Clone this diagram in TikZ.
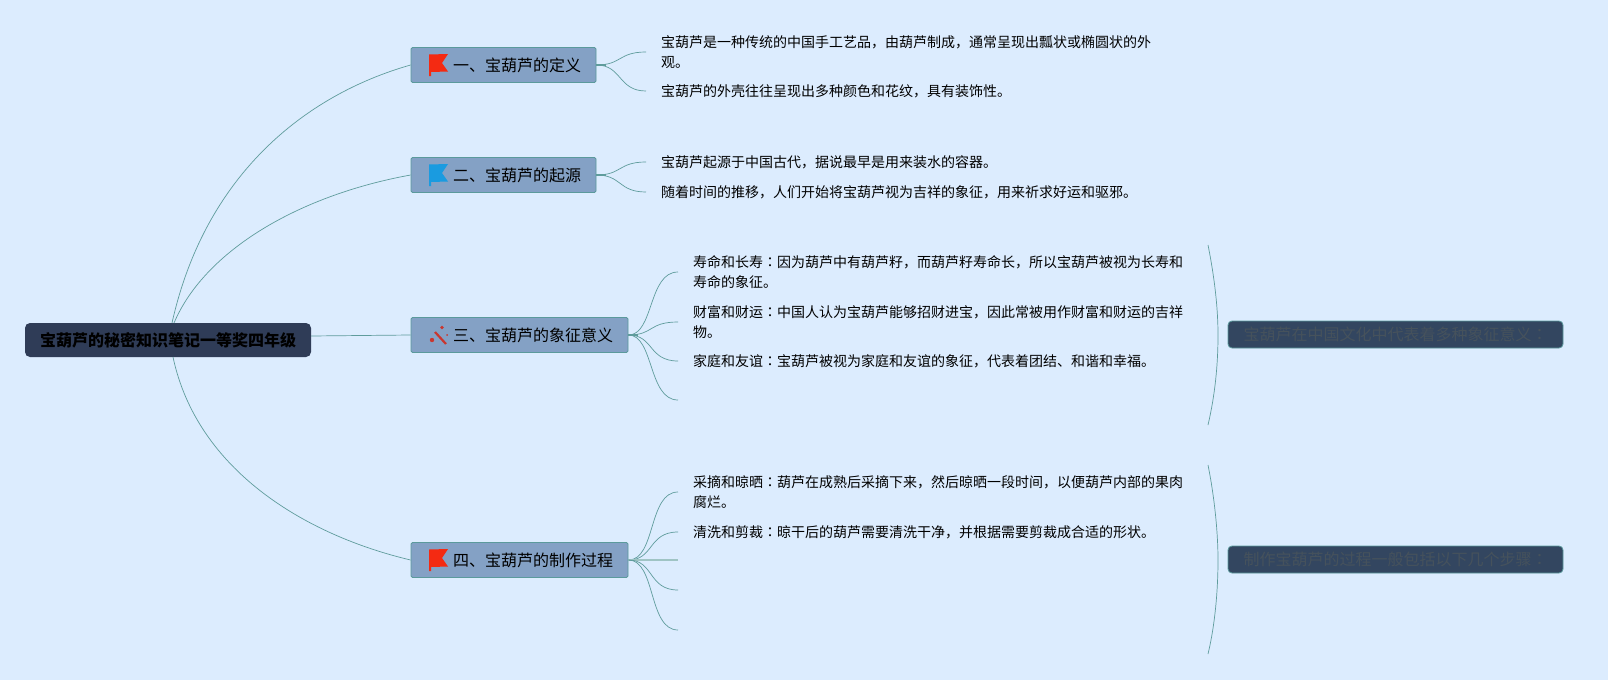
\documentclass[tikz,border=0pt]{standalone}
\usepackage{fontspec}
\setmainfont{Noto Sans CJK SC}
\newfontfamily\jpf{Noto Sans CJK JP}
\newcommand{\cc}{{\jpf ：}}
\newcommand{\dn}[1]{\raisebox{-1pt}{#1}}
\newcommand{\dnn}[1]{\raisebox{-2pt}{#1}}
\definecolor{bgc}{HTML}{DCECFE}
\definecolor{branchc}{HTML}{84A1C5}
\definecolor{edgec}{HTML}{5B9A9C}
\definecolor{linec}{HTML}{5F9C9C}
\definecolor{rootc}{HTML}{2F3C57}
\definecolor{sidec}{HTML}{334660}
\definecolor{sidetxt}{HTML}{46525C}
\definecolor{flagred}{HTML}{F42A12}
\definecolor{flagblue}{HTML}{1A9BE0}
\definecolor{wandred}{HTML}{C9362F}
\tikzset{
  x=1pt,y=-1pt,
  rootbox/.style={draw=none,fill=rootc,rounded corners=5pt,minimum width=286pt,minimum height=34pt,inner sep=0pt,font=\fontsize{16}{20}\selectfont\bfseries,text=black},
  branchbox/.style={draw=edgec,line width=0.8pt,fill=branchc,rounded corners=1.5pt,minimum height=35pt,inner sep=0pt,font=\fontsize{16}{20}\selectfont,text=black},
  sidebox/.style={draw=edgec,line width=0.8pt,fill=sidec,rounded corners=4pt,minimum width=335pt,minimum height=27pt,inner sep=0pt,font=\fontsize{16}{20}\selectfont,text=sidetxt},
  leaf/.style={anchor=west,inner xsep=15pt,inner ysep=0pt,align=left,font=\fontsize{14}{20.5}\selectfont,text=black},
  link/.style={draw=linec,line width=0.7pt},
  stub/.style={draw=linec,line width=1.6pt},
  flagicon/.pic={\path[pic actions,draw=none] (0,0.5)--(19,0)--(13,9)--(19,17.5)--(2,18)--(2,22)--(0,22)--cycle;}
}
\begin{document}
\begin{tikzpicture}
\useasboundingbox (0,0) rectangle (1608,680);
\fill[bgc] (0,0) rectangle (1608,680);
% nodes
\node[rootbox] (root) at (168,340) {\dn{宝葫芦的秘密知识笔记一等奖四年级}};
\node[branchbox,minimum width=185pt] (b1) at (503.5,65) {\hspace*{27pt}\dnn{一、宝葫芦的定义}};
\node[branchbox,minimum width=185pt] (b2) at (503.5,175) {\hspace*{27pt}\dnn{二、宝葫芦的起源}};
\node[branchbox,minimum width=217pt] (b3) at (519.5,335) {\hspace*{27pt}\dnn{三、宝葫芦的象征意义}};
\node[branchbox,minimum width=217pt] (b4) at (519.5,560) {\hspace*{27pt}\dnn{四、宝葫芦的制作过程}};
\node[sidebox] (s3) at (1395.5,334.5) {\dnn{宝葫芦在中国文化中代表着多种象征意义\cc}};
\node[sidebox] (s4) at (1395.5,559.5) {\dnn{制作宝葫芦的过程一般包括以下几个步骤\cc}};
% leaves
\node[leaf] (l11) at (646,52) {宝葫芦是一种传统的中国手工艺品，由葫芦制成，通常呈现出瓢状或椭圆状的外\\观。};
\node[leaf] (l12) at (646,91) {宝葫芦的外壳往往呈现出多种颜色和花纹，具有装饰性。};
\node[leaf] (l21) at (646,162) {宝葫芦起源于中国古代，据说最早是用来装水的容器。};
\node[leaf] (l22) at (646,192) {随着时间的推移，人们开始将宝葫芦视为吉祥的象征，用来祈求好运和驱邪。};
\node[leaf] (l31) at (678,272) {寿命和长寿\cc 因为葫芦中有葫芦籽，而葫芦籽寿命长，所以宝葫芦被视为长寿和\\寿命的象征。};
\node[leaf] (l32) at (678,322) {财富和财运\cc 中国人认为宝葫芦能够招财进宝，因此常被用作财富和财运的吉祥\\物。};
\node[leaf] (l33) at (678,361) {家庭和友谊\cc 宝葫芦被视为家庭和友谊的象征，代表着团结、和谐和幸福。};
\coordinate (l34) at (678,400);
\node[leaf] (l41) at (678,492) {采摘和晾晒\cc 葫芦在成熟后采摘下来，然后晾晒一段时间，以便葫芦内部的果肉\\腐烂。};
\node[leaf] (l42) at (678,532) {清洗和剪裁\cc 晾干后的葫芦需要清洗干净，并根据需要剪裁成合适的形状。};
\coordinate (l43) at (678,560);
\coordinate (l44) at (678,590);
\coordinate (l45) at (678,630);
% root connectors
\coordinate (rtop) at (172,323);
\coordinate (rtopb) at (174,323);
\coordinate (rbot) at (173,357);
\coordinate (rright) at (311,336);
\draw[link] (rtop) .. controls (205,175) and (305,95) .. (b1.west);
\draw[link] (rtopb) .. controls (205,250) and (300,195) .. (b2.west);
\draw[link] (rright) -- (b3.west);
\draw[link] (rbot) .. controls (197,470) and (305,535) .. (b4.west);
% branch connectors
\draw[stub] (b1.east) -- ++(10,0);
\draw[stub] (b2.east) -- ++(10,0);
\draw[stub] (b3.east) -- ++(10,0);
\draw[stub] (b4.east) -- ++(10,0);
\draw[link] (b1.east) .. controls (622,65) and (618,52) .. (l11.west);
\draw[link] (b1.east) .. controls (622,65) and (618,91) .. (l12.west);
\draw[link] (b2.east) .. controls (622,175) and (618,162) .. (l21.west);
\draw[link] (b2.east) .. controls (622,175) and (618,192) .. (l22.west);
\draw[link] (b3.east) .. controls (654,335) and (648,272) .. (l31.west);
\draw[link] (b3.east) .. controls (654,335) and (648,322) .. (l32.west);
\draw[link] (b3.east) .. controls (654,335) and (648,361) .. (l33.west);
\draw[link] (b3.east) .. controls (654,335) and (648,400) .. (l34);
\draw[link] (b4.east) .. controls (656,560) and (648,492) .. (l41.west);
\draw[link] (b4.east) .. controls (654,560) and (648,532) .. (l42.west);
\draw[draw=linec!60,line width=1.2pt] (b4.east) -- (l43);
\draw[link] (b4.east) .. controls (654,560) and (648,590) .. (l44);
\draw[link] (b4.east) .. controls (656,560) and (648,630) .. (l45);
% summary brackets
\coordinate (t3) at (1208,245);
\coordinate (e3) at (1208,425);
\coordinate (t4) at (1208,465);
\coordinate (e4) at (1208,654);
\draw[link] (t3) .. controls (1215,280) and (1218,310) .. (1218,335) .. controls (1218,365) and (1215,395) .. (e3);
\draw[link] (t4) .. controls (1215,500) and (1218,535) .. (1218,560) .. controls (1218,590) and (1215,625) .. (e4);
% icons
\pic[fill=flagred] at (429,54) {flagicon};
\pic[fill=flagblue] at (429,164) {flagicon};
\pic[fill=flagred] at (429,549) {flagicon};
\draw[wandred,line width=2.2pt] (435,332) -- (446,344);
\fill[wandred] (432,340) circle (2.2pt);
\fill[wandred] (442,327.5) circle (1.8pt);
\fill[wandred] (447,335) circle (1pt);
\end{tikzpicture}
\end{document}
